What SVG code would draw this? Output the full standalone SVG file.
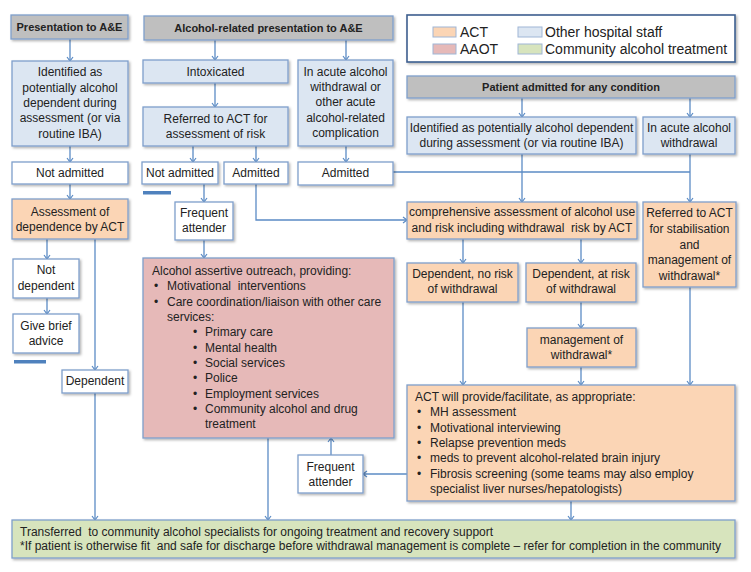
<svg xmlns="http://www.w3.org/2000/svg" width="751" height="572" viewBox="0 0 751 572">
<defs>
<filter id="sh" x="-10%" y="-10%" width="130%" height="130%">
<feDropShadow dx="1.5" dy="1.5" stdDeviation="0.8" flood-color="#000" flood-opacity="0.3"/>
</filter>
<marker id="ah" markerUnits="userSpaceOnUse" markerWidth="10" markerHeight="10" refX="5" refY="5" orient="auto">
<path d="M1,2 L5,5 L1,8" fill="none" stroke="#5b8bc5" stroke-width="1.2"/>
</marker>
</defs>
<style>
text{font-family:"Liberation Sans",Arial,sans-serif;font-size:12px;fill:#222;white-space:pre}
.c{text-anchor:middle}
.b{font-weight:bold;font-size:11px}
.lg{font-size:14px}
rect.n{stroke:#7f9fcb;stroke-width:1.3;filter:url(#sh)}
.gray{fill:#bfbfbf}
.blue{fill:#dce6f2}
.white{fill:#ffffff}
.orange{fill:#fbd5b5}
.pink{fill:#e6b9b8}
.green{fill:#d7e4bd}
.conn path{fill:none;stroke:#5b8bc5;stroke-width:1.3}
.conn path.a{marker-end:url(#ah)}
.bar{fill:#4f81bd}
</style>
<rect width="751" height="572" fill="#ffffff"/>

<g class="conn" id="connectors">
<path class="a" d="M70,39 V61"/>
<path class="a" d="M215,40 V60"/>
<path class="a" d="M346,40 V60"/>
<path class="a" d="M215,83 V107"/>
<path class="a" d="M70,146 V162"/>
<path class="a" d="M193,146 V162"/>
<path class="a" d="M256,146 V162"/>
<path class="a" d="M346,146 V162"/>
<path class="a" d="M70,184 V199"/>
<path class="a" d="M204,184 V202"/>
<path class="a" d="M256,184 V220 H407"/>
<path d="M393,172 H690"/>
<path class="a" d="M522,98 V117"/>
<path class="a" d="M690,98 V117"/>
<path class="a" d="M522,154 V202"/>
<path class="a" d="M690,154 V202"/>
<path class="a" d="M47,239 V259"/>
<path class="a" d="M95,239 V370"/>
<path class="a" d="M47,298 V314"/>
<path class="a" d="M204,240 V258"/>
<path class="a" d="M463,239 V263"/>
<path class="a" d="M581,239 V263"/>
<path class="a" d="M581,302 V328"/>
<path class="a" d="M463,302 V385"/>
<path class="a" d="M581,367 V385"/>
<path class="a" d="M690,287 V385"/>
<path class="a" d="M95,393 V520"/>
<path class="a" d="M268,438 V520"/>
<path class="a" d="M407,474 H363"/>
<path class="a" d="M331,455 V438"/>
<path class="a" d="M571,501 V520"/>
</g>

<g id="pres_ae"><rect class="n gray" x="11" y="15" width="117" height="24"/><text class="c b" x="69.5" y="31">Presentation to A&amp;E</text></g>
<g id="alc_pres"><rect class="n gray" x="144" y="16" width="249" height="24"/><text class="c b" x="268.5" y="32">Alcohol-related presentation to A&amp;E</text></g>

<g id="legend">
<rect x="407" y="15" width="328" height="47" fill="#fff" stroke="#3d5f8f" stroke-width="1.6" filter="url(#sh)"/>
<rect x="433" y="27" width="23" height="10" class="orange" stroke="#9fb6d6" stroke-width="1"/>
<text class="lg" x="460" y="37">ACT</text>
<rect x="433" y="44" width="23" height="10" class="pink" stroke="#9fb6d6" stroke-width="1"/>
<text class="lg" x="460" y="54">AAOT</text>
<rect x="518" y="27" width="24" height="10" class="blue" stroke="#9fb6d6" stroke-width="1"/>
<text class="lg" x="545" y="37">Other hospital staff</text>
<rect x="518" y="44" width="24" height="10" class="green" stroke="#9fb6d6" stroke-width="1"/>
<text class="lg" x="545" y="54">Community alcohol treatment</text>
</g>

<g id="ident_left"><rect class="n blue" x="12" y="61" width="116" height="85"/>
<text class="c" x="70" y="76">Identified as</text>
<text class="c" x="70" y="92">potentially alcohol</text>
<text class="c" x="70" y="107">dependent during</text>
<text class="c" x="70" y="122">assessment (or via</text>
<text class="c" x="70" y="138">routine IBA)</text></g>

<g id="intox"><rect class="n blue" x="143" y="60" width="145" height="23"/><text class="c" x="215.5" y="76">Intoxicated</text></g>

<g id="acute_ae"><rect class="n blue" x="298" y="60" width="95" height="86"/>
<text class="c" x="345.5" y="76">In acute alcohol</text>
<text class="c" x="345.5" y="91">withdrawal or</text>
<text class="c" x="345.5" y="106">other acute</text>
<text class="c" x="345.5" y="122">alcohol-related</text>
<text class="c" x="345.5" y="137">complication</text></g>

<g id="referred_risk"><rect class="n blue" x="143" y="107" width="145" height="39"/>
<text class="c" x="215.5" y="123">Referred to ACT for</text>
<text class="c" x="215.5" y="138">assessment of risk</text></g>

<g id="notadm_left"><rect class="n white" x="12" y="162" width="116" height="22"/><text class="c" x="70" y="177">Not admitted</text></g>
<g id="notadm_mid"><rect class="n white" x="142" y="162" width="76" height="22"/><text class="c" x="180" y="177">Not admitted</text></g>
<g id="adm_mid"><rect class="n white" x="224" y="162" width="64" height="22"/><text class="c" x="256" y="177">Admitted</text></g>
<g id="adm_right"><rect class="n white" x="298" y="162" width="95" height="23"/><text class="c" x="345.5" y="177">Admitted</text></g>

<rect class="bar" x="143" y="191" width="28" height="3.5"/>
<rect class="bar" x="14" y="360" width="32" height="3.5"/>

<g id="patient_adm"><rect class="n gray" x="407" y="76" width="328" height="22"/><text class="c b" x="571" y="91">Patient admitted for any condition</text></g>

<g id="ident_right"><rect class="n blue" x="407" y="117" width="229" height="37"/>
<text class="c" x="521.5" y="132">Identified as potentially alcohol dependent</text>
<text class="c" x="521.5" y="147">during assessment (or via routine IBA)</text></g>

<g id="acute_right"><rect class="n blue" x="643" y="117" width="92" height="37"/>
<text class="c" x="689" y="132">In acute alcohol</text>
<text class="c" x="689" y="147">withdrawal</text></g>

<g id="assess_dep"><rect class="n orange" x="12" y="199" width="116" height="40"/>
<text class="c" x="70" y="216">Assessment of</text>
<text class="c" x="70" y="231">dependence by ACT</text></g>

<g id="freq_top"><rect class="n white" x="175" y="202" width="58" height="38"/>
<text class="c" x="204" y="217">Frequent</text>
<text class="c" x="204" y="232">attender</text></g>

<g id="comp_assess"><rect class="n orange" x="407" y="202" width="230" height="37"/>
<text class="c" x="522" y="216">comprehensive assessment of alcohol use</text>
<text class="c" x="522" y="232">and risk including withdrawal  risk by ACT</text></g>

<g id="referred_stab"><rect class="n orange" x="643" y="202" width="93" height="85"/>
<text class="c" x="689.5" y="217">Referred to ACT</text>
<text class="c" x="689.5" y="233">for stabilisation</text>
<text class="c" x="689.5" y="249">and</text>
<text class="c" x="689.5" y="264">management of</text>
<text class="c" x="689.5" y="280">withdrawal*</text></g>

<g id="not_dep"><rect class="n white" x="13" y="259" width="66" height="39"/>
<text class="c" x="46" y="274">Not</text>
<text class="c" x="46" y="290">dependent</text></g>

<g id="dep_norisk"><rect class="n orange" x="407" y="263" width="111" height="39"/>
<text class="c" x="462.5" y="278">Dependent, no risk</text>
<text class="c" x="462.5" y="293">of withdrawal</text></g>

<g id="dep_risk"><rect class="n orange" x="526" y="263" width="110" height="39"/>
<text class="c" x="581" y="278">Dependent, at risk</text>
<text class="c" x="581" y="293">of withdrawal</text></g>

<g id="aaot"><rect class="n pink" x="143" y="258" width="251" height="180"/>
<text x="152" y="275">Alcohol assertive outreach, providing:</text>
<text x="154" y="290">•</text><text x="167" y="290">Motivational  interventions</text>
<text x="154" y="306">•</text><text x="167" y="306">Care coordination/liaison with other care</text>
<text x="167" y="321">services:</text>
<text x="193" y="336">•</text><text x="205" y="336">Primary care</text>
<text x="193" y="352">•</text><text x="205" y="352">Mental health</text>
<text x="193" y="367">•</text><text x="205" y="367">Social services</text>
<text x="193" y="382">•</text><text x="205" y="382">Police</text>
<text x="193" y="398">•</text><text x="205" y="398">Employment services</text>
<text x="193" y="413">•</text><text x="205" y="413">Community alcohol and drug</text>
<text x="205" y="428">treatment</text></g>

<g id="give_advice"><rect class="n white" x="13" y="314" width="66" height="39"/>
<text class="c" x="46" y="330">Give brief</text>
<text class="c" x="46" y="345">advice</text></g>

<g id="mgmt"><rect class="n orange" x="527" y="328" width="109" height="39"/>
<text class="c" x="581.5" y="344">management of</text>
<text class="c" x="581.5" y="359">withdrawal*</text></g>

<g id="dependent"><rect class="n white" x="62" y="370" width="66" height="23"/><text class="c" x="95" y="385">Dependent</text></g>

<g id="act_provide"><rect class="n orange" x="407" y="385" width="328" height="116"/>
<text x="415" y="401">ACT will provide/facilitate, as appropriate:</text>
<text x="417" y="416">•</text><text x="430" y="416">MH assessment</text>
<text x="417" y="432">•</text><text x="430" y="432">Motivational interviewing</text>
<text x="417" y="447">•</text><text x="430" y="447">Relapse prevention meds</text>
<text x="417" y="462">•</text><text x="430" y="462">meds to prevent alcohol-related brain injury</text>
<text x="417" y="478">•</text><text x="430" y="478">Fibrosis screening (some teams may also employ</text>
<text x="430" y="493">specialist liver nurses/hepatologists)</text></g>

<g id="freq_bottom"><rect class="n white" x="298" y="455" width="65" height="38"/>
<text class="c" x="330.5" y="471">Frequent</text>
<text class="c" x="330.5" y="486">attender</text></g>

<g id="community"><rect class="n green" x="12" y="520" width="723" height="38"/>
<text x="20" y="536">Transferred  to community alcohol specialists for ongoing treatment and recovery support</text>
<text x="20" y="550">*If patient is otherwise fit  and safe for discharge before withdrawal management is complete – refer for completion in the community</text></g>
</svg>
